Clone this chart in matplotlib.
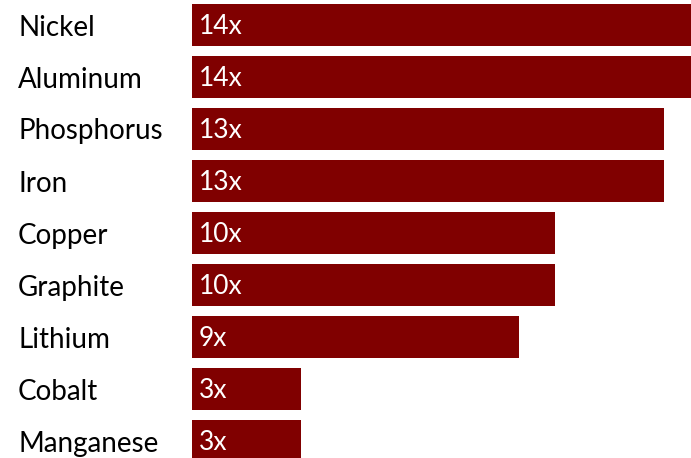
import matplotlib.pyplot as plt
import numpy as np

materials = ['Nickel', 'Aluminum', 'Phosphorus', 'Iron', 'Copper',
             'Graphite', 'Lithium', 'Cobalt', 'Manganese']
multiples = [14, 14, 13, 13, 10, 10, 9, 3, 3]
value_labels = ['14x', '14x', '13x', '13x', '10x', '10x', '9x', '3x', '3x']

W, H = 691, 458
fig = plt.figure(figsize=(W / 100, H / 100), dpi=100)
ax = fig.add_axes([192 / W, 0, (W - 192) / W, 1])

ypos = np.arange(len(materials))
ax.barh(ypos, multiples, height=42 / 52, color='#800000', linewidth=0)
ax.set_xlim(0, (W - 192) / 36.3)
ax.set_ylim((H - 25) / 52, -25 / 52)

for y, lab in zip(ypos, value_labels):
    ax.text(0.18, y + 0.03, lab, color='white', fontsize=19, family='Lato',
            va='center', ha='left')

ax.set_yticks(ypos)
ax.set_yticklabels(materials, fontsize=20, family='Lato')
for t in ax.get_yticklabels():
    t.set_ha('left')
ax.tick_params(axis='y', length=0, pad=174 * 0.72)
ax.set_xticks([])
for s in ax.spines.values():
    s.set_visible(False)

fig.savefig('out.png', dpi=100)
